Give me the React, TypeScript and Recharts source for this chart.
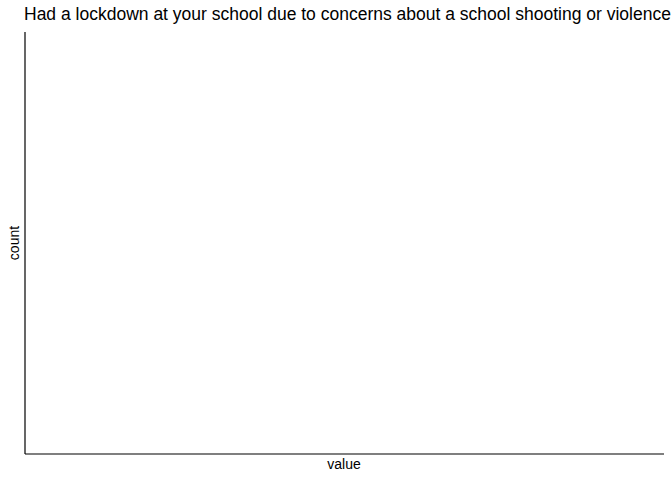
import { LineChart, Line, XAxis, YAxis, ReferenceLine } from 'recharts'

const title = 'Had a lockdown at your school due to concerns about a school shooting or violence'
const xLabel = 'value'
const yLabel = 'count'
// the reference panel is empty: only the domain ends are kept
const values = [0, 1]
const counts: (number | null)[] = [null, null]

const data = values.map((v, i) => ({ value: v, count: counts[i] }))

const font = '"Liberation Sans", Arial, sans-serif'

export default function App() {
  return (
    <div style={{ position: 'absolute', left: 0, top: 0, width: 672, height: 480, background: '#fff', fontFamily: font, overflow: 'hidden' }}>
      <div style={{ position: 'absolute', left: 24, top: 4, fontSize: 17.5, whiteSpace: 'nowrap', color: '#000' }}>{title}</div>
      <div style={{ position: 'absolute', left: 0, width: 688, textAlign: 'center', top: 456, fontSize: 14, color: '#000' }}>{xLabel}</div>
      <div style={{ position: 'absolute', left: 14, top: 243, fontSize: 14, color: '#000', transform: 'translate(-50%, -50%) rotate(-90deg)' }}>{yLabel}</div>
      <LineChart width={672} height={480} data={data} margin={{ top: 32, right: 8, bottom: 25, left: 24 }}>
        <XAxis dataKey="value" type="number" domain={[0, 1]} tick={false} tickLine={false} axisLine={false} height={1} />
        <YAxis type="number" domain={[0, 1]} tick={false} tickLine={false} axisLine={false} width={1} />
        <ReferenceLine x={values[0]} stroke="#000" strokeWidth={1.2} ifOverflow="extendDomain" />
        <ReferenceLine y={0} stroke="#000" strokeWidth={1.2} ifOverflow="extendDomain" />
        <Line dataKey="count" isAnimationActive={false} dot={false} stroke="#000" />
      </LineChart>
    </div>
  )
}
